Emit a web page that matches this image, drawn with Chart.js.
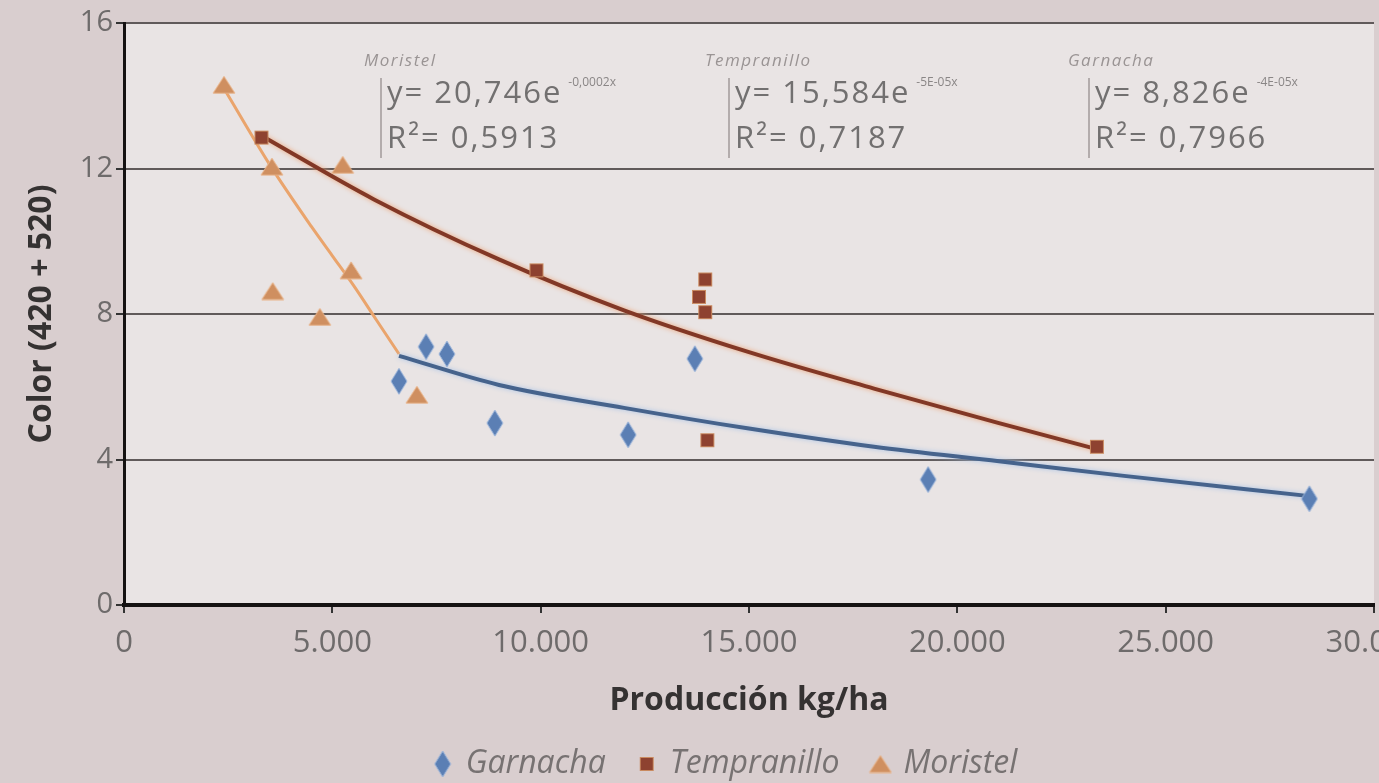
<!DOCTYPE html>
<html>
<head>
<meta charset="utf-8">
<script src="https://cdn.jsdelivr.net/npm/chart.js@4"></script>
<style>
html, body { margin: 0; padding: 0; background: #d9cecf; }
canvas { display: block; }
</style>
</head>
<body>
<canvas id="Graph" width="1379" height="783"></canvas>
<script>
// measured points (x = kg/ha, y = color)
const garnachaX = [6600, 7250, 7750, 8900, 12100, 13700, 19300, 28450];
const garnachaY = [6.15, 7.1, 6.9, 5.0, 4.68, 6.77, 3.45, 2.92];
const tempranilloX = [3300, 9900, 13950, 13800, 13950, 14000, 23350];
const tempranilloY = [12.85, 9.2, 8.95, 8.47, 8.05, 4.53, 4.35];
const moristelX = [2400, 3550, 3570, 4700, 5250, 5450, 7030];
const moristelY = [14.3, 12.05, 8.63, 7.92, 12.1, 9.2, 5.78];

// trend curves
const garnachaTrendX = [6600, 9000, 12000, 15000, 18000, 21000, 24000, 28400];
const garnachaTrendY = [6.85, 6.05, 5.42, 4.85, 4.35, 3.95, 3.55, 3.0];
const tempranilloTrendX = [3300, 6000, 9000, 12000, 15000, 18000, 21000, 23300];
const tempranilloTrendY = [12.9, 11.15, 9.5, 8.1, 6.95, 5.95, 5.0, 4.3];
const moristelTrendX = [2400, 3500, 4500, 5000, 5500, 6050, 6600];
const moristelTrendY = [14.2, 12.1, 10.4, 9.6, 8.8, 7.85, 6.9];

const seriesNames = ["Garnacha", "Tempranillo", "Moristel"];
const xTickLabels = ["0", "5.000", "10.000", "15.000", "20.000", "25.000", "30.000"];
const yTickLabels = ["0", "4", "8", "12", "16"];

// equation boxes
const eqNames = ["Moristel", "Tempranillo", "Garnacha"];
const eqCoefs = ["y= 20,746e", "y= 15,584e", "y= 8,826e"];
const eqExps = ["-0,0002x", "-5E-05x", "-4E-05x"];
const eqR2 = ["R\u00b2= 0,5913", "R\u00b2= 0,7187", "R\u00b2= 0,7966"];

const blue = "#5b7fb4";
const brown = "#8e4230";
const tan = "#cf8f60";
const halos = {3: "#a9c3e6", 4: "#eca477"};

function toXY(xs, ys) {
    return xs.map((x, i) => ({x: x, y: ys[i]}));
}

function makeMarker(kind) {
    const c = document.createElement("canvas");
    const g = c.getContext("2d");
    if (kind == "diamond") {
        c.width = 18; c.height = 28;
        g.beginPath();
        g.moveTo(9, 1); g.lineTo(17, 14); g.lineTo(9, 27); g.lineTo(1, 14); g.closePath();
        g.fillStyle = blue; g.fill();
        g.strokeStyle = "#9db6db"; g.lineWidth = 1; g.stroke();
    } else if (kind == "square") {
        c.width = 16; c.height = 16;
        g.fillStyle = brown; g.fillRect(1, 1, 14, 14);
        g.strokeStyle = "#c98a60"; g.lineWidth = 1; g.strokeRect(1.5, 1.5, 13, 13);
    } else {
        c.width = 24; c.height = 19;
        g.beginPath();
        g.moveTo(12, 1); g.lineTo(23, 18); g.lineTo(1, 18); g.closePath();
        g.fillStyle = tan; g.fill();
        g.strokeStyle = "#e9b48a"; g.lineWidth = 1; g.stroke();
    }
    return c;
}

const bgPlugin = {
    id: "bg",
    beforeDraw(chart) {
        const ctx = chart.ctx;
        const a = chart.chartArea;
        ctx.save();
        ctx.fillStyle = "#d9cecf";
        ctx.fillRect(0, 0, chart.width, chart.height);
        ctx.fillStyle = "#e9e4e4";
        ctx.fillRect(a.left, a.top, a.right - a.left, a.bottom - a.top);
        ctx.restore();
    },
    afterLayout(chart) {
        // legend sits a bit right of centre in the original
        chart.legend.left += 37;
        chart.legend.right += 37;
    },
    beforeDatasetDraw(chart, args) {
        if (halos[args.index]) {
            chart.ctx.save();
            chart.ctx.shadowColor = halos[args.index];
            chart.ctx.shadowBlur = 5;
        }
    },
    afterDatasetDraw(chart, args) {
        if (halos[args.index]) chart.ctx.restore();
    }
};

const eqPlugin = {
    id: "equations",
    beforeDatasetsDraw(chart) {
        const ctx = chart.ctx;
        const lefts = [387, 735, 1095];
        const nameLefts = [364, 705, 1068];
        ctx.save();
        ctx.textBaseline = "middle";
        for (let i = 0; i < eqNames.length; i++) {
            const x = lefts[i];
            // bar on the left
            ctx.strokeStyle = "#a09a9a";
            ctx.lineWidth = 1.5;
            ctx.beginPath();
            ctx.moveTo(x - 6, 78); ctx.lineTo(x - 6, 158);
            ctx.stroke();

            ctx.fillStyle = "#9a9494";
            ctx.font = "italic 17px 'Open Sans'";
            ctx.letterSpacing = "1.5px";
            ctx.fillText(eqNames[i], nameLefts[i], 61);

            ctx.fillStyle = "#727070";
            ctx.font = "31px 'Open Sans'";
            ctx.letterSpacing = "2px";
            ctx.fillText(eqCoefs[i], x, 94);
            const w = ctx.measureText(eqCoefs[i]).width;
            ctx.fillText(eqR2[i], x, 139);

            ctx.font = "12px 'Open Sans'";
            ctx.letterSpacing = "0px";
            ctx.fillStyle = "#8a8686";
            ctx.fillText(eqExps[i], x + w + 6, 83);
        }
        ctx.restore();
    }
};

const tickFont = {family: "'Open Sans'", size: 31};

new Chart(document.getElementById("Graph"), {
    type: "scatter",
    data: {
        datasets: [
            {label: seriesNames[0], data: toXY(garnachaX, garnachaY), pointStyle: makeMarker("diamond"), backgroundColor: blue, borderColor: blue, order: 0},
            {label: seriesNames[1], data: toXY(tempranilloX, tempranilloY), pointStyle: makeMarker("square"), backgroundColor: brown, borderColor: brown, order: 0},
            {label: seriesNames[2], data: toXY(moristelX, moristelY), pointStyle: makeMarker("triangle"), backgroundColor: tan, borderColor: tan, order: 0},
            {label: "trend g", data: toXY(garnachaTrendX, garnachaTrendY), showLine: true, pointRadius: 0, borderColor: "#46638c", borderWidth: 4, cubicInterpolationMode: "monotone", order: 1},
            {label: "trend t", data: toXY(tempranilloTrendX, tempranilloTrendY), showLine: true, pointRadius: 0, borderColor: "#823826", borderWidth: 4, cubicInterpolationMode: "monotone", order: 1},
            {label: "trend m", data: toXY(moristelTrendX, moristelTrendY), showLine: true, pointRadius: 0, borderColor: "#eaa46c", borderWidth: 3, cubicInterpolationMode: "monotone", order: 1}
        ]
    },
    options: {
        responsive: false,
        animation: false,
        layout: {padding: {left: 0, right: 0, top: 23, bottom: -7}},
        scales: {
            x: {
                type: "linear",
                min: 0,
                max: 30000,
                ticks: {stepSize: 5000, color: "#6e6b6b", font: tickFont, padding: 12, maxRotation: 0, autoSkip: false,
                    callback: (v, i) => xTickLabels[i]},
                grid: {drawOnChartArea: false, tickLength: 8, tickColor: "#333", lineWidth: 2},
                border: {color: "#151212", width: 4},
                title: {display: true, text: "Producción kg/ha", color: "#353232",
                    font: {family: "'Open Sans'", size: 32, weight: "bold", lineHeight: 1}, padding: {top: 0, bottom: -3}},
                afterFit(s) { s.paddingLeft = 0; s.paddingRight = 0; s.height = 109; }
            },
            y: {
                min: 0,
                max: 16,
                ticks: {stepSize: 4, color: "#6e6b6b", font: {family: "'Open Sans'", size: 29}, padding: 3,
                    callback: (v, i) => yTickLabels[i]},
                grid: {color: "#605a5a", lineWidth: 2, tickLength: 8, tickColor: "#333"},
                border: {color: "#151212", width: 3},
                title: {display: true, text: "Color (420 + 520)", color: "#353232",
                    font: {family: "'Open Sans'", size: 32, weight: "bold", lineHeight: 1.2}, padding: {top: 23, bottom: 0}},
                afterFit(s) { s.width = 124; s.paddingTop = 0; s.paddingBottom = 0; }
            }
        },
        plugins: {
            legend: {
                position: "bottom",
                labels: {
                    usePointStyle: true,
                    boxWidth: 14,
                    padding: 34,
                    color: "#777272",
                    font: {family: "'Open Sans'", size: 32, style: "italic"},
                    filter: item => item.datasetIndex < 3
                }
            },
            tooltip: {enabled: false}
        }
    },
    plugins: [bgPlugin, eqPlugin]
});
</script>
</body>
</html>
